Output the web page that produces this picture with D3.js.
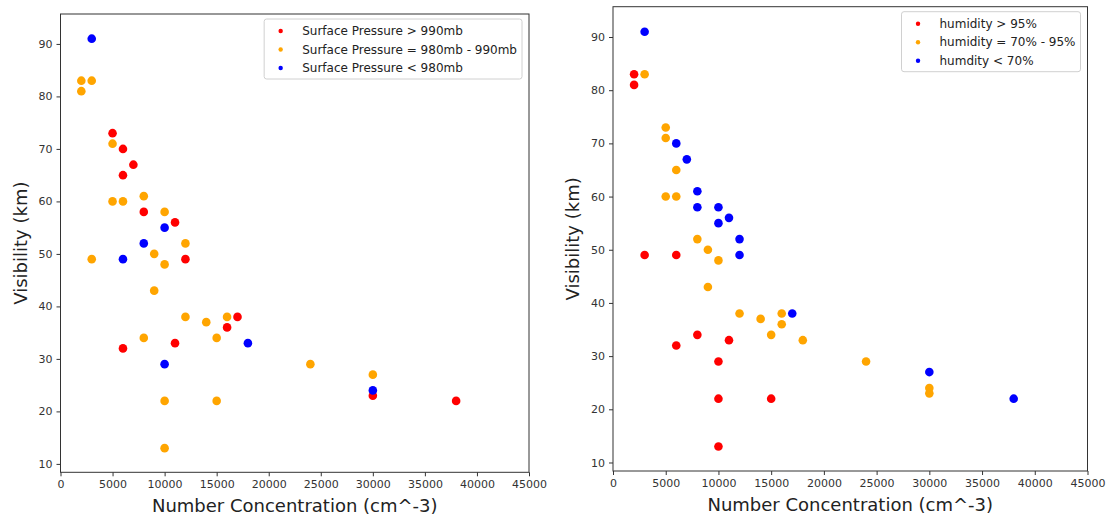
<!DOCTYPE html>
<html>
<head>
<meta charset="utf-8">
<script src="https://cdn.jsdelivr.net/npm/d3@7"></script>
<style>
  body { margin: 0; background: #fff; }
  text { font-family: "DejaVu Sans", sans-serif; }
</style>
</head>
<body>
<svg id="chart" width="1107" height="519"></svg>
<script>
// ---- data: [number concentration, visibility] ----
var pressureHigh = [[5000, 73], [6000, 70], [7000, 67], [6000, 65], [8000, 58], [11000, 56],
  [12000, 49], [17000, 38], [16000, 36], [11000, 33], [6000, 32], [30000, 23], [38000, 22]];
var pressureMid = [[2000, 83], [3000, 83], [2000, 81], [5000, 71], [5000, 60], [6000, 60],
  [8000, 61], [10000, 58], [12000, 52], [9000, 50], [10000, 48], [3000, 49], [9000, 43],
  [12000, 38], [14000, 37], [16000, 38], [15000, 34], [8000, 34], [24000, 29], [30000, 27],
  [10000, 22], [15000, 22], [10000, 13]];
var pressureLow = [[3000, 91], [10000, 55], [8000, 52], [6000, 49], [18000, 33], [10000, 29],
  [30000, 24]];

var humidHigh = [[2000, 83], [2000, 81], [3000, 49], [6000, 49], [8000, 34], [6000, 32],
  [11000, 33], [10000, 29], [10000, 22], [15000, 22], [10000, 13]];
var humidMid = [[3000, 83], [5000, 73], [5000, 71], [6000, 65], [5000, 60], [6000, 60],
  [8000, 52], [9000, 50], [10000, 48], [9000, 43], [12000, 38], [14000, 37], [16000, 38],
  [16000, 36], [15000, 34], [18000, 33], [24000, 29], [30000, 24], [30000, 23]];
var humidLow = [[3000, 91], [6000, 70], [7000, 67], [8000, 61], [8000, 58], [10000, 58],
  [10000, 55], [11000, 56], [12000, 52], [12000, 49], [17000, 38], [30000, 27], [38000, 22]];

var pressureLabels = ["Surface Pressure > 990mb", "Surface Pressure = 980mb - 990mb", "Surface Pressure < 980mb"];
var humidLabels = ["humidity > 95%", "humidity = 70% - 95%", "humdity < 70%"];
var seriesColors = ["red", "orange", "blue"];

var xTicks = [0, 5000, 10000, 15000, 20000, 25000, 30000, 35000, 40000, 45000];
var yTicks = [10, 20, 30, 40, 50, 60, 70, 80, 90];
var xDomain = [0, 45000];
var yDomain = [8.4, 95.7];

var svg = d3.select("#chart");

function drawPanel(box, series, labels) {
  var x = d3.scaleLinear().domain(xDomain).range([box.left, box.right]);
  var y = d3.scaleLinear().domain(yDomain).range([box.bottom, box.top]);
  var g = svg.append("g");

  // axes
  var xAxis = g.append("g")
    .attr("transform", "translate(0," + box.bottom + ")")
    .call(d3.axisBottom(x).tickValues(xTicks).tickFormat(d3.format("d")).tickSize(4).tickPadding(4));
  var yAxis = g.append("g")
    .attr("transform", "translate(" + box.left + ",0)")
    .call(d3.axisLeft(y).tickValues(yTicks).tickSize(4).tickPadding(4));
  [xAxis, yAxis].forEach(function (a) {
    a.select(".domain").remove();
    a.selectAll("line").attr("stroke", "#333").attr("stroke-width", 1);
    a.selectAll("text").attr("font-size", "11px").attr("fill", "#333")
      .attr("font-family", "DejaVu Sans, sans-serif");
  });

  // frame
  g.append("rect")
    .attr("x", box.left)
    .attr("y", box.top)
    .attr("width", box.right - box.left)
    .attr("height", box.bottom - box.top)
    .attr("fill", "none")
    .attr("stroke", "#333")
    .attr("stroke-width", 1);

  // points, drawn in series order so blue ends up on top
  series.forEach(function (data, i) {
    g.append("g")
      .selectAll("circle")
      .data(data)
      .enter()
      .append("circle")
      .attr("cx", function (d) { return x(d[0]); })
      .attr("cy", function (d) { return y(d[1]); })
      .attr("r", 4.3)
      .attr("fill", seriesColors[i]);
  });

  // axis titles
  g.append("text")
    .text("Number Concentration (cm^-3)")
    .attr("x", (box.left + box.right) / 2)
    .attr("y", box.bottom + 40)
    .attr("font-size", "18px")
    .attr("fill", "#222")
    .attr("text-anchor", "middle");
  g.append("text")
    .text("Visibility (km)")
    .attr("transform", "translate(" + (box.left - 34) + "," + (box.top + box.bottom) / 2 + ") rotate(-90)")
    .attr("font-size", "18px")
    .attr("fill", "#222")
    .attr("text-anchor", "middle");

  // legend
  var leg = g.append("g");
  var items = leg.selectAll("g")
    .data(labels)
    .enter()
    .append("g")
    .attr("transform", function (d, i) { return "translate(0," + (12 + i * 18.5) + ")"; });
  items.append("circle")
    .attr("cx", 16.5)
    .attr("r", 2.2)
    .attr("fill", function (d, i) { return seriesColors[i]; });
  items.append("text")
    .text(function (d) { return d; })
    .attr("x", 38)
    .attr("dy", "0.35em")
    .attr("font-size", "12px")
    .attr("fill", "#222");
  var textW = d3.max(items.selectAll("text").nodes(), function (n) { return n.getComputedTextLength(); });
  var legW = 38 + textW + 5;
  leg.insert("rect", ":first-child")
    .attr("width", legW)
    .attr("height", 60)
    .attr("rx", 2.5)
    .attr("fill", "#fff")
    .attr("fill-opacity", 0.8)
    .attr("stroke", "#d0d0d0")
    .attr("stroke-width", 1);
  leg.attr("transform", "translate(" + (box.right - 7 - legW) + "," + (box.top + 5) + ")");
}

drawPanel({ left: 60.5, right: 529, top: 14, bottom: 472.3 },
  [pressureHigh, pressureMid, pressureLow], pressureLabels);
drawPanel({ left: 613, right: 1087.5, top: 6.7, bottom: 471 },
  [humidHigh, humidMid, humidLow], humidLabels);
</script>
</body>
</html>
